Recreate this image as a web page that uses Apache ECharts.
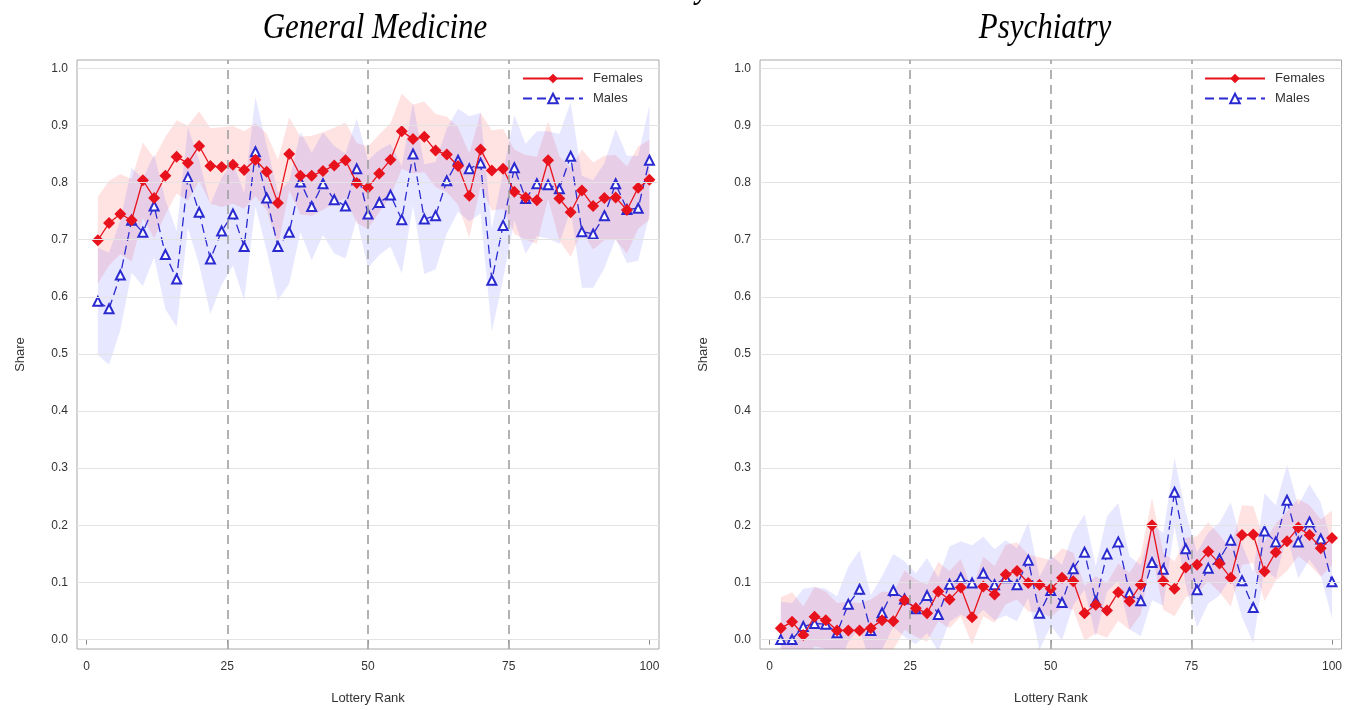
<!DOCTYPE html>
<html>
<head>
<meta charset="utf-8">
<script src="https://cdn.jsdelivr.net/npm/echarts@6/dist/echarts.min.js"></script>
<style>
  html, body { margin: 0; padding: 0; background: #ffffff; }
  #chart { width: 1345px; height: 710px; }
</style>
</head>
<body>
<div id="chart"></div>
<script>
// Lottery rank of each estimate
const ranks = [2, 4, 6, 8, 10, 12, 14, 16, 18, 20,
               22, 24, 26, 28, 30, 32, 34, 36, 38, 40,
               42, 44, 46, 48, 50, 52, 54, 56, 58, 60,
               62, 64, 66, 68, 70, 72, 74, 76, 78, 80,
               82, 84, 86, 88, 90, 92, 94, 96, 98, 100];

// General Medicine: share and 95% CI half-width
const gmFemales = [0.699, 0.729, 0.745, 0.734, 0.804, 0.773, 0.812, 0.845, 0.834, 0.864,
                   0.829, 0.827, 0.831, 0.822, 0.840, 0.819, 0.764, 0.850, 0.812, 0.812,
                   0.820, 0.830, 0.839, 0.799, 0.791, 0.816, 0.840, 0.890, 0.876, 0.880,
                   0.856, 0.849, 0.829, 0.777, 0.858, 0.821, 0.824, 0.784, 0.774, 0.769,
                   0.839, 0.772, 0.748, 0.786, 0.759, 0.773, 0.774, 0.752, 0.791, 0.805];
const gmFemalesCI = [0.076, 0.074, 0.070, 0.072, 0.066, 0.070, 0.068, 0.064, 0.066, 0.061,
                     0.066, 0.070, 0.068, 0.068, 0.064, 0.067, 0.076, 0.064, 0.068, 0.070,
                     0.068, 0.066, 0.066, 0.070, 0.072, 0.068, 0.064, 0.066, 0.060, 0.062,
                     0.064, 0.066, 0.068, 0.074, 0.064, 0.070, 0.070, 0.074, 0.074, 0.076,
                     0.068, 0.074, 0.078, 0.072, 0.076, 0.074, 0.074, 0.076, 0.072, 0.070];
const gmMales = [0.592, 0.579, 0.638, 0.734, 0.713, 0.759, 0.674, 0.631, 0.809, 0.748,
                 0.666, 0.715, 0.745, 0.688, 0.854, 0.773, 0.688, 0.713, 0.801, 0.758,
                 0.798, 0.770, 0.759, 0.824, 0.745, 0.765, 0.778, 0.735, 0.850, 0.736,
                 0.742, 0.803, 0.839, 0.824, 0.834, 0.629, 0.725, 0.826, 0.772, 0.798,
                 0.796, 0.789, 0.846, 0.714, 0.710, 0.742, 0.798, 0.753, 0.755, 0.839];
const gmMalesCI = [0.094, 0.098, 0.096, 0.092, 0.094, 0.090, 0.096, 0.084, 0.088, 0.092,
                   0.096, 0.094, 0.090, 0.094, 0.096, 0.092, 0.094, 0.090, 0.088, 0.094,
                   0.090, 0.094, 0.092, 0.088, 0.094, 0.092, 0.090, 0.094, 0.090, 0.096,
                   0.094, 0.092, 0.090, 0.092, 0.088, 0.090, 0.094, 0.092, 0.096, 0.092,
                   0.094, 0.096, 0.094, 0.098, 0.094, 0.092, 0.096, 0.094, 0.092, 0.096];

// Psychiatry: share and 95% CI half-width
const psFemales = [0.020, 0.031, 0.008, 0.040, 0.034, 0.016, 0.016, 0.016, 0.020, 0.034,
                   0.032, 0.069, 0.055, 0.046, 0.084, 0.070, 0.091, 0.039, 0.093, 0.079,
                   0.114, 0.120, 0.099, 0.096, 0.089, 0.108, 0.102, 0.046, 0.061, 0.051,
                   0.083, 0.067, 0.096, 0.200, 0.102, 0.089, 0.126, 0.131, 0.154, 0.133,
                   0.108, 0.183, 0.184, 0.119, 0.153, 0.172, 0.196, 0.183, 0.160, 0.178];
const psFemalesCI = [0.054, 0.052, 0.050, 0.052, 0.050, 0.048, 0.050, 0.048, 0.050, 0.050,
                     0.050, 0.052, 0.050, 0.050, 0.052, 0.050, 0.050, 0.048, 0.052, 0.050,
                     0.052, 0.050, 0.050, 0.048, 0.050, 0.052, 0.050, 0.048, 0.050, 0.048,
                     0.050, 0.050, 0.052, 0.048, 0.050, 0.048, 0.052, 0.050, 0.052, 0.050,
                     0.050, 0.052, 0.050, 0.052, 0.050, 0.052, 0.050, 0.052, 0.050, 0.048];
const psMales = [0.000, 0.000, 0.023, 0.028, 0.027, 0.012, 0.062, 0.088, 0.016, 0.047,
                 0.086, 0.071, 0.054, 0.077, 0.044, 0.097, 0.108, 0.099, 0.116, 0.096,
                 0.108, 0.096, 0.139, 0.046, 0.086, 0.065, 0.124, 0.153, 0.067, 0.150,
                 0.171, 0.082, 0.068, 0.135, 0.123, 0.258, 0.159, 0.087, 0.125, 0.141,
                 0.174, 0.103, 0.056, 0.190, 0.171, 0.244, 0.171, 0.206, 0.176, 0.101];
const psMalesCI = [0.066, 0.064, 0.066, 0.064, 0.062, 0.064, 0.066, 0.068, 0.062, 0.064,
                   0.064, 0.066, 0.062, 0.066, 0.064, 0.066, 0.064, 0.066, 0.064, 0.062,
                   0.066, 0.064, 0.066, 0.064, 0.062, 0.066, 0.064, 0.066, 0.062, 0.066,
                   0.068, 0.064, 0.062, 0.066, 0.064, 0.060, 0.064, 0.066, 0.062, 0.064,
                   0.066, 0.064, 0.062, 0.066, 0.064, 0.062, 0.064, 0.066, 0.064, 0.064];

// Axis ticks and labels
const xTicks = [0, 25, 50, 75, 100];
const yTicks = [0, 0.1, 0.2, 0.3, 0.4, 0.5, 0.6, 0.7, 0.8, 0.9, 1.0];
const refRanks = [25, 50, 75];
const panelTitles = ['General Medicine', 'Psychiatry'];

const SANS = '"Liberation Sans", Arial, sans-serif';
const SERIF = '"Liberation Serif", "Times New Roman", serif';
const RED = '#e8121c';
const BLUE = '#2a2ad0';

function points(vals) {
  return ranks.map((r, i) => [r, vals[i]]);
}
function bandRows(vals, ci) {
  return ranks.map((r, i) => [r, vals[i] - ci[i], vals[i] + ci[i]]);
}

// Confidence band drawn as one filled polygon
function bandSeries(g, rows, fill) {
  return {
    type: 'custom',
    xAxisIndex: g, yAxisIndex: g,
    data: rows,
    clip: true,
    silent: true,
    z: 1,
    encode: { x: 0, y: [1, 2] },
    renderItem: function (params, api) {
      if (params.dataIndex !== 0) return null;
      const upper = rows.map(r => api.coord([r[0], r[2]]));
      const lower = rows.slice().reverse().map(r => api.coord([r[0], r[1]]));
      return {
        type: 'polygon',
        shape: { points: upper.concat(lower) },
        style: { fill: fill, stroke: null }
      };
    }
  };
}

function guideSeries(g) {
  return [
    {
      type: 'line', xAxisIndex: g, yAxisIndex: g, data: [], z: 0, silent: true,
      markLine: {
        silent: true, symbol: ['none', 'none'], label: { show: false },
        lineStyle: { color: '#e3e3e3', width: 1, type: 'solid' },
        data: yTicks.map(v => ({ yAxis: v }))
      }
    },
    {
      type: 'line', xAxisIndex: g, yAxisIndex: g, data: [], z: 2, silent: true,
      markLine: {
        silent: true, symbol: ['none', 'none'], label: { show: false },
        lineStyle: { color: '#a0a0a0', width: 1.6, type: [9, 6] },
        data: refRanks.map(v => ({ xAxis: v }))
      }
    }
  ];
}

function femaleSeries(g, vals) {
  return {
    name: 'Females', type: 'line', xAxisIndex: g, yAxisIndex: g, z: 4,
    data: points(vals),
    symbol: 'diamond', symbolSize: 12,
    itemStyle: { color: RED },
    lineStyle: { color: RED, width: 1.3, type: 'solid' }
  };
}
function maleSeries(g, vals) {
  return {
    name: 'Males', type: 'line', xAxisIndex: g, yAxisIndex: g, z: 3,
    data: points(vals),
    symbol: 'emptyTriangle', symbolSize: 9,
    itemStyle: { color: BLUE, borderWidth: 1.3 },
    lineStyle: { color: BLUE, width: 1.3, type: [9, 5] }
  };
}

const panelLeft = [77, 760];
const grids = panelLeft.map(l => ({
  left: l, top: 60, width: 582, height: 595,
  show: true, borderColor: '#a8a8a8', borderWidth: 1, backgroundColor: 'transparent'
}));

const xAxes = [0, 1].map(g => ({
  gridIndex: g, type: 'value', min: -1.7, max: 101.7,
  axisLine: { show: false },
  splitLine: { show: false },
  axisTick: { show: true, customValues: xTicks, length: 5, lineStyle: { color: '#888' } },
  axisLabel: { customValues: xTicks, color: '#333', fontSize: 12, fontFamily: SANS, margin: 12 },
  name: 'Lottery Rank', nameLocation: 'middle', nameGap: 43,
  nameTextStyle: { color: '#333', fontSize: 13, fontFamily: SANS }
}));

const yAxes = [0, 1].map(g => ({
  gridIndex: g, type: 'value', min: -0.0165, max: 1.0145,
  axisLine: { show: false },
  splitLine: { show: false },
  axisTick: { show: true, customValues: yTicks, length: 5, lineStyle: { color: '#888' } },
  axisLabel: {
    customValues: yTicks, color: '#333', fontSize: 12, fontFamily: SANS, margin: 9,
    formatter: v => Number(v).toFixed(1)
  },
  name: 'Share', nameLocation: 'middle', nameGap: 50,
  nameTextStyle: { color: '#333', fontSize: 13, fontFamily: SANS }
}));

const legends = [522, 1204].map(l => ({
  data: ['Females', 'Males'], left: l, top: 72, padding: 0, orient: 'vertical',
  itemWidth: 60, itemHeight: 12, itemGap: 7,
  textStyle: { color: '#333', fontSize: 13, fontFamily: SANS, padding: [0, 0, 0, 5] },
  selectedMode: false
}));

const series = [
  ...guideSeries(0),
  bandSeries(0, bandRows(gmFemales, gmFemalesCI), 'rgba(255, 40, 40, 0.13)'),
  bandSeries(0, bandRows(gmMales, gmMalesCI), 'rgba(60, 60, 255, 0.12)'),
  maleSeries(0, gmMales),
  femaleSeries(0, gmFemales),
  ...guideSeries(1),
  bandSeries(1, bandRows(psFemales, psFemalesCI), 'rgba(255, 40, 40, 0.13)'),
  bandSeries(1, bandRows(psMales, psMalesCI), 'rgba(60, 60, 255, 0.12)'),
  maleSeries(1, psMales),
  femaleSeries(1, psFemales)
];

const titleX = [375, 1045];
const graphic = panelTitles.map((t, i) => ({
  type: 'text', x: titleX[i], y: 29, scaleY: 1.15, silent: true,
  style: {
    text: t, font: 'italic 31px ' + SERIF, fill: '#000',
    align: 'center', verticalAlign: 'middle'
  }
}));
// tail of the cropped figure heading
graphic.push({
  type: 'text', x: 703, y: -30, scaleY: 1.15, silent: true,
  style: { text: 'y', font: 'italic 31px ' + SERIF, fill: '#000', align: 'center', verticalAlign: 'top' }
});

const chart = echarts.init(document.getElementById('chart'), null, { renderer: 'canvas' });
chart.setOption({
  backgroundColor: '#ffffff',
  animation: false,
  grid: grids,
  xAxis: xAxes,
  yAxis: yAxes,
  legend: legends,
  graphic: graphic,
  series: series
});
</script>
</body>
</html>
